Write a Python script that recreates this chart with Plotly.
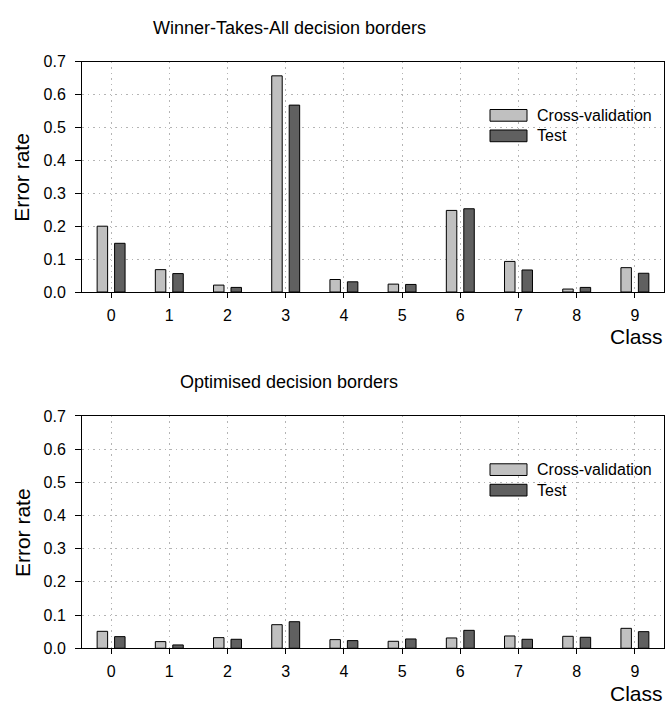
import plotly.graph_objects as go

# Error rates per digit class for the two decision-border schemes
classes = [0, 1, 2, 3, 4, 5, 6, 7, 8, 9]
wta_cv = [0.200, 0.068, 0.021, 0.657, 0.038, 0.024, 0.248, 0.093, 0.009, 0.074]
wta_test = [0.148, 0.056, 0.014, 0.568, 0.031, 0.023, 0.253, 0.067, 0.014, 0.057]
opt_cv = [0.051, 0.020, 0.032, 0.071, 0.026, 0.021, 0.031, 0.037, 0.036, 0.060]
opt_test = [0.035, 0.010, 0.027, 0.080, 0.023, 0.028, 0.054, 0.027, 0.033, 0.050]

panel_titles = ["Winner-Takes-All decision borders", "Optimised decision borders"]
series_names = ["Cross-validation", "Test"]
y_ticks = [0.0, 0.1, 0.2, 0.3, 0.4, 0.5, 0.6, 0.7]

W, H = 665, 708
FONT = "Arial, Liberation Sans, sans-serif"
CV_COLOR = "#c0c0c0"
TEST_COLOR = "#606060"


def px_x(px):
    return px / W


def px_y(py):
    return 1 - py / H


# plot areas in pixels: (top, bottom)
panels = [(55, 291), (418, 656)]
x_left, x_right = 82, 664

fig = go.Figure()

data = [(wta_cv, wta_test), (opt_cv, opt_test)]
for i, (cv, te) in enumerate(data):
    xa = "x" if i == 0 else "x2"
    ya = "y" if i == 0 else "y2"
    fig.add_trace(go.Bar(x=classes, y=cv, name=series_names[0], xaxis=xa, yaxis=ya,
                         marker=dict(color=CV_COLOR, line=dict(color="black", width=1)),
                         showlegend=False, offsetgroup="cv"))
    fig.add_trace(go.Bar(x=classes, y=te, name=series_names[1], xaxis=xa, yaxis=ya,
                         marker=dict(color=TEST_COLOR, line=dict(color="black", width=1)),
                         showlegend=False, offsetgroup="test"))

axis_common = dict(
    showline=True, linecolor="black", linewidth=1, mirror=True,
    showgrid=True, gridcolor="#b4b4b4", griddash="1.5px,4px", gridwidth=1,
    zeroline=False, ticks="outside", tickcolor="black", tickwidth=1,
    tickfont=dict(family=FONT, size=16, color="black"),
)

layout_axes = {}
for i, (top, bottom) in enumerate(panels):
    sfx = "" if i == 0 else "2"
    layout_axes["xaxis" + sfx] = dict(
        axis_common, domain=[px_x(x_left), px_x(x_right)], anchor="y" + sfx,
        range=[-0.5, 9.5], tickmode="array", tickvals=classes,
        ticktext=[str(c) for c in classes], ticklen=5, ticklabelstandoff=4,
    )
    layout_axes["yaxis" + sfx] = dict(
        axis_common, domain=[px_y(bottom), px_y(top)], anchor="x" + sfx,
        range=[0, 0.7], tickmode="array", tickvals=y_ticks,
        ticktext=[f"{v:.1f}" for v in y_ticks], ticklen=6, ticklabelstandoff=6,
    )

annotations = []
shapes = []
for i, (top, bottom) in enumerate(panels):
    # panel title
    annotations.append(dict(text=panel_titles[i], x=px_x(289), y=px_y(top - 35),
                            xref="paper", yref="paper", showarrow=False,
                            xanchor="center", yanchor="middle",
                            font=dict(family=FONT, size=18, color="black")))
    # y axis title
    annotations.append(dict(text="Error rate", x=px_x(22), y=px_y((top + bottom) / 2),
                            xref="paper", yref="paper", showarrow=False, textangle=-90,
                            xanchor="center", yanchor="middle",
                            font=dict(family=FONT, size=21, color="black")))
    # x axis title
    annotations.append(dict(text="Class", x=px_x(665), y=px_y(bottom + 46),
                            xref="paper", yref="paper", showarrow=False,
                            xanchor="right", yanchor="middle",
                            font=dict(family=FONT, size=21, color="black")))
    # legend: swatch + label per series
    for j, (name, color) in enumerate(zip(series_names, [CV_COLOR, TEST_COLOR])):
        y0 = top + 49 + j * 21
        shapes.append(dict(type="rect", xref="paper", yref="paper",
                           x0=px_x(490), x1=px_x(527), y0=px_y(y0 + 12), y1=px_y(y0),
                           fillcolor=color, line=dict(color="black", width=1)))
        annotations.append(dict(text=name, x=px_x(535), y=px_y(y0 + 6),
                                xref="paper", yref="paper", showarrow=False,
                                xanchor="left", yanchor="middle",
                                font=dict(family=FONT, size=16, color="black")))

fig.update_layout(
    width=W, height=H,
    margin=dict(l=0, r=0, t=0, b=0),
    paper_bgcolor="white", plot_bgcolor="white",
    barmode="group", bargap=0.4, bargroupgap=0.4,
    font=dict(family=FONT, color="black"),
    annotations=annotations, shapes=shapes,
    **layout_axes,
)

fig.write_html("out.html")
